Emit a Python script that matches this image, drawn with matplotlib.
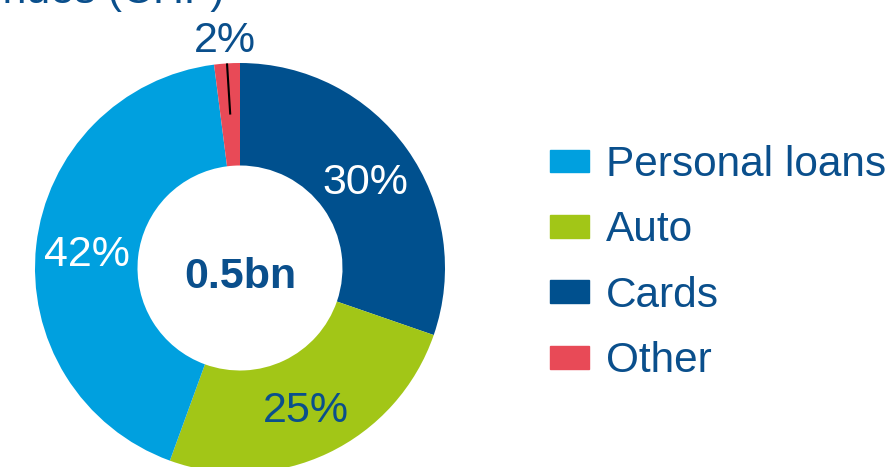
import matplotlib.pyplot as plt
import numpy as np
from matplotlib.patches import Rectangle

# 데이터 (시계방향, 12시 방향부터)
segments = ['Cards', 'Auto', 'Personal loans', 'Other']
shares = [30, 25, 42, 2]
colors = ['#00508e', '#a2c617', '#00a0df', '#e84a57']
label_colors = ['white', '#0a4f8c', 'white', '#0a4f8c']
legend_order = ['Personal loans', 'Auto', 'Cards', 'Other']
total_label = '0.5bn'
title = 'Revenues (CHF)'

text_blue = '#0a4f8c'
plt.rcParams['font.family'] = ['Liberation Sans', 'DejaVu Sans']

W, H = 893, 467
fig = plt.figure(figsize=(W / 100, H / 100), dpi=100)

# 도넛 위치 (픽셀 기준: 중심 240,268 / 반지름 205)
cx, cy, r = 240, 268, 205
half = 1.1 * r
ax = fig.add_axes([(cx - half) / W, (H - cy - half) / H, 2 * half / W, 2 * half / H])

wedges, _ = ax.pie(shares, colors=colors, startangle=90, counterclock=False,
                   radius=1.0, wedgeprops=dict(width=0.5, linewidth=0))
ax.set_xlim(-1.1, 1.1)
ax.set_ylim(-1.1, 1.1)
ax.set_aspect('equal')
ax.axis('off')

# 퍼센트 라벨
for w, val, name, lc in zip(wedges, shares, segments, label_colors):
    mid = np.deg2rad((w.theta1 + w.theta2) / 2)
    if name == 'Other':
        ax.text(1.13 * np.cos(mid), 1.13 * np.sin(mid), f'{val}%', ha='center',
                va='center_baseline', fontsize=31, color=lc)
        # 안쪽 검은 선
        ax.plot([np.cos(mid), 0.75 * np.cos(mid)], [np.sin(mid), 0.75 * np.sin(mid)],
                color='black', lw=1.5, solid_capstyle='butt')
    else:
        ax.text(0.75 * np.cos(mid), 0.75 * np.sin(mid), f'{val}%', ha='center',
                va='center_baseline', fontsize=31, color=lc)

ax.text(0, -0.02, total_label, ha='center', va='center_baseline', fontsize=31,
        fontweight='bold', color=text_blue)

fig.text(224 / W, (H - 3) / H, title, ha='right', va='baseline', fontsize=31, color=text_blue)

# 범례
color_of = dict(zip(segments, colors))
handles = [Rectangle((0, 0), 1, 1, color=color_of[n]) for n in legend_order]
fig.legend(handles, legend_order, loc='upper left', bbox_to_anchor=(550 / W, (H - 145) / H),
           frameon=False, fontsize=30.5, labelcolor=text_blue, handlelength=0.92,
           handleheight=0.45, handletextpad=0.4, labelspacing=0.6,
           borderpad=0, borderaxespad=0)

fig.savefig('out.png', dpi=100)
